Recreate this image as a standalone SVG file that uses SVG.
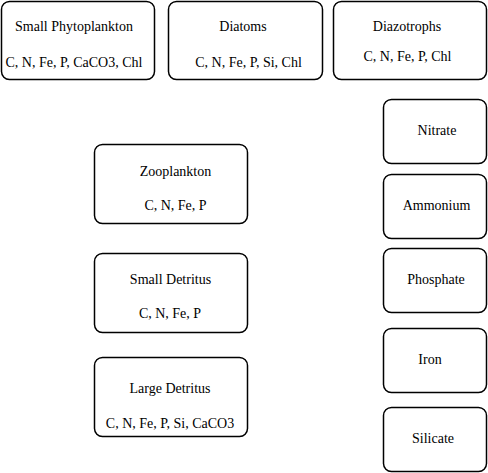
<svg xmlns="http://www.w3.org/2000/svg" width="488" height="473" viewBox="0 0 488 473">
<style>
.box{fill:#fff;stroke:#000;stroke-width:1.5}
text{font-family:"Liberation Serif","Times New Roman",serif;font-size:14px;fill:#000;text-anchor:middle}
</style>
<rect width="488" height="473" fill="#fff"/>
<g id="small-phytoplankton"><rect class="box" x="1.5" y="1.5" width="153" height="78" rx="8"/><text x="74" y="31">Small Phytoplankton</text><text x="74" y="67">C, N, Fe, P, CaCO3, Chl</text></g>
<g id="diatoms"><rect class="box" x="168.5" y="1.5" width="154" height="78" rx="8"/><text x="243" y="31">Diatoms</text><text x="248.5" y="67">C, N, Fe, P, Si, Chl</text></g>
<g id="diazotrophs"><rect class="box" x="333.5" y="1.5" width="153" height="78" rx="8"/><text x="407" y="31">Diazotrophs</text><text x="407.5" y="61">C, N, Fe, P, Chl</text></g>
<g id="nitrate"><rect class="box" x="383.5" y="99.5" width="103" height="64" rx="8"/><text x="437" y="135">Nitrate</text></g>
<g id="ammonium"><rect class="box" x="383.5" y="174.5" width="103" height="64" rx="8"/><text x="436.5" y="210">Ammonium</text></g>
<g id="phosphate"><rect class="box" x="383.5" y="248.5" width="103" height="64" rx="8"/><text x="436" y="284">Phosphate</text></g>
<g id="iron"><rect class="box" x="383.5" y="328.5" width="103" height="64" rx="8"/><text x="430" y="364">Iron</text></g>
<g id="silicate"><rect class="box" x="383.5" y="407.5" width="103" height="64" rx="8"/><text x="433" y="443">Silicate</text></g>
<g id="zooplankton"><rect class="box" x="94.5" y="144.5" width="153" height="79" rx="8"/><text x="175.5" y="176">Zooplankton</text><text x="175.5" y="210">C, N, Fe, P</text></g>
<g id="small-detritus"><rect class="box" x="94.5" y="253.5" width="153" height="79" rx="8"/><text x="170.5" y="284">Small Detritus</text><text x="170" y="318">C, N, Fe, P</text></g>
<g id="large-detritus"><rect class="box" x="94.5" y="357.5" width="153" height="79" rx="8"/><text x="170" y="393">Large Detritus</text><text x="170" y="428">C, N, Fe, P, Si, CaCO3</text></g>
<g id="connectors"></g>
</svg>
